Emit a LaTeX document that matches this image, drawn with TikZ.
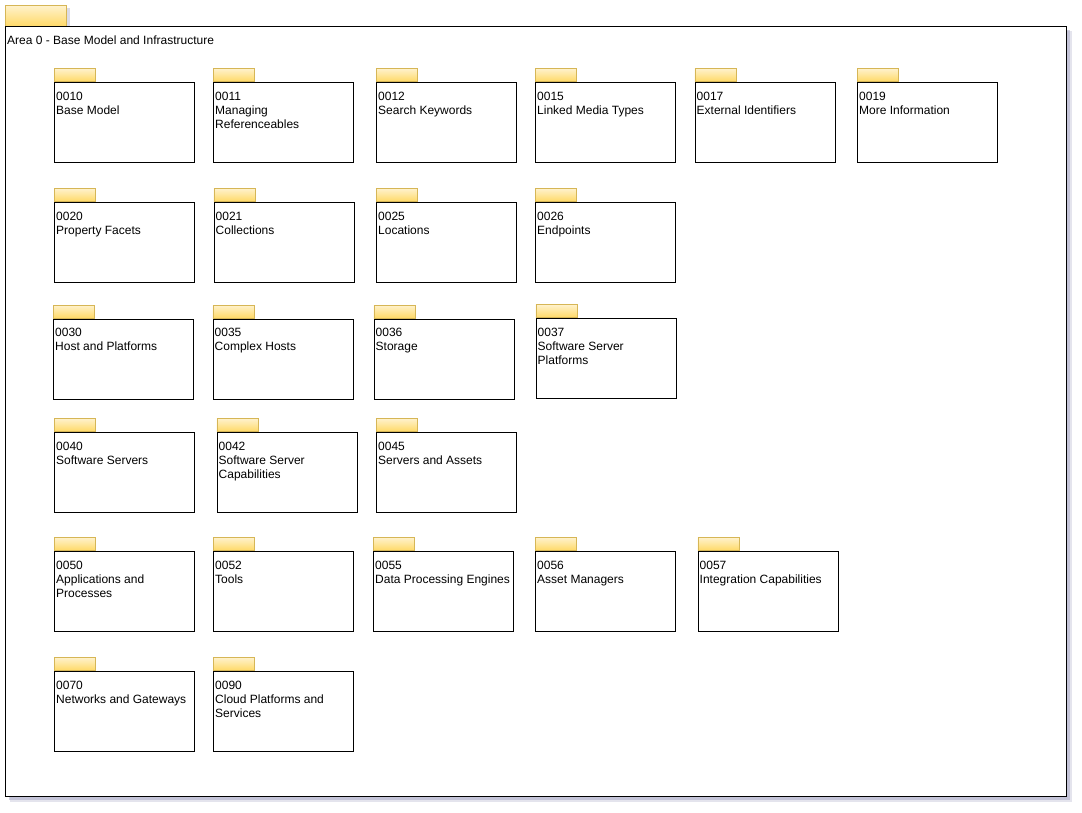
\documentclass[tikz,border=0pt]{standalone}
\usepackage{fontspec}
\setmainfont{Liberation Sans}
\usetikzlibrary{positioning,calc}
\definecolor{tabtop}{HTML}{FFF2CC}
\definecolor{tabbot}{HTML}{FFD966}
\definecolor{tabline}{HTML}{D6B656}
\definecolor{shadowc}{RGB}{165,165,195}
\tikzset{
  pkgbox/.style={draw=black, line width=1pt, fill=white, minimum width=140pt, minimum height=80pt, inner sep=0pt, anchor=north west},
  pkgtab/.style={draw=tabline, line width=0.8pt, top color=tabtop, bottom color=tabbot, minimum width=41pt, minimum height=13pt, inner sep=0pt, anchor=south west},
  lbl/.style={font=\fontsize{12}{14}\selectfont, align=left, inner sep=0pt, anchor=north west},
}
\newcommand\pkgdef[5]{%
  \node[pkgbox] (b#1) at (#2,#3) {};
  \node[pkgtab] (t#1) at (b#1.north west) {};
  \node[lbl] (l#1) at ([xshift=2pt,yshift=-9.8pt]b#1.north west) {#1\\#5};
}
\begin{document}
\begin{tikzpicture}[x=1pt,y=-1pt]
\useasboundingbox (0,0) rectangle (1082,812);
% outer package shadow
\fill[shadowc,opacity=0.3] (10,31) rectangle (1071.5,801.5);
\fill[shadowc,opacity=0.5] (8.5,29.5) rectangle (1070,800);
\fill[shadowc,opacity=0.4] (8,8) rectangle (70,27);
% outer tab
\node[draw=tabline, line width=0.8pt, top color=tabtop, bottom color=tabbot, minimum width=61pt, minimum height=21pt, inner sep=0pt, anchor=north west] (areatab) at (5,5) {};
% outer box
\node[draw=black, line width=1pt, fill=white, minimum width=1061pt, minimum height=770pt, inner sep=0pt, anchor=north west] (area) at (5,26) {};
\node[lbl] (arealbl) at ([xshift=2pt,yshift=-9.6pt]area.north west) {Area 0 - Base Model and Infrastructure};
% row 1
\pkgdef{0010}{54}{82}{}{Base Model}
\pkgdef{0011}{213}{82}{}{Managing\\Referenceables}
\pkgdef{0012}{376}{82}{}{Search Keywords}
\pkgdef{0015}{535}{82}{}{Linked Media Types}
\pkgdef{0017}{694.5}{82}{}{External Identifiers}
\pkgdef{0019}{857}{82}{}{More Information}
% row 2
\pkgdef{0020}{54}{202}{}{Property Facets}
\pkgdef{0021}{213.5}{202}{}{Collections}
\pkgdef{0025}{376}{202}{}{Locations}
\pkgdef{0026}{535}{202}{}{Endpoints}
% row 3
\pkgdef{0030}{53}{318.5}{}{Host and Platforms}
\pkgdef{0035}{212.5}{318.5}{}{Complex Hosts}
\pkgdef{0036}{373.5}{318.5}{}{Storage}
\pkgdef{0037}{535.5}{318}{}{Software Server\\Platforms}
% row 4
\pkgdef{0040}{54}{432}{}{Software Servers}
\pkgdef{0042}{216.5}{432}{}{Software Server\\Capabilities}
\pkgdef{0045}{376}{432}{}{Servers and Assets}
% row 5
\pkgdef{0050}{54}{551}{}{Applications and\\Processes}
\pkgdef{0052}{213}{551}{}{Tools}
\pkgdef{0055}{373}{551}{}{Data Processing Engines}
\pkgdef{0056}{535}{551}{}{Asset Managers}
\pkgdef{0057}{697.5}{551}{}{Integration Capabilities}
% row 6
\pkgdef{0070}{54}{671}{}{Networks and Gateways}
\pkgdef{0090}{213}{671}{}{Cloud Platforms and\\Services}
\end{tikzpicture}
\end{document}
